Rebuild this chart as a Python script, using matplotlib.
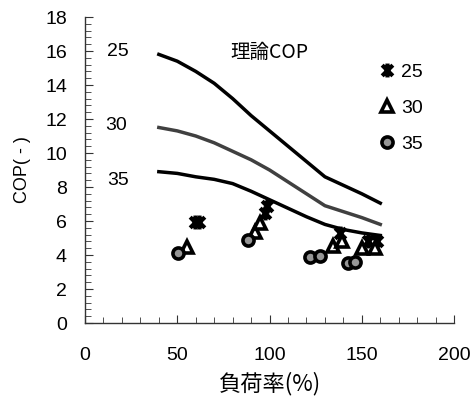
import numpy as np
import matplotlib
matplotlib.use("Agg")
import matplotlib.pyplot as plt
from matplotlib.path import Path
from matplotlib.ticker import MultipleLocator

plt.rcParams['font.family'] = ['Liberation Sans', 'Noto Sans CJK JP', 'DejaVu Sans']

# 理論COP curves
load_theory = [40, 50, 60, 70, 80, 90, 100, 110, 120, 130, 140, 150, 160]
cop_25 = [15.8, 15.4, 14.8, 14.1, 13.2, 12.2, 11.3, 10.4, 9.5, 8.6, 8.1, 7.6, 7.05]
cop_30 = [11.5, 11.3, 11.0, 10.6, 10.1, 9.6, 9.0, 8.3, 7.6, 6.9, 6.55, 6.2, 5.8]
cop_35 = [8.9, 8.8, 8.6, 8.45, 8.2, 7.75, 7.25, 6.75, 6.25, 5.8, 5.5, 5.3, 5.15]

# measured points
load_m25 = [59.5, 62, 97.6, 98.5, 138, 153.5, 158]
meas_25 = [5.95, 5.95, 6.45, 6.9, 5.3, 4.85, 4.85]
load_m30 = [55, 92, 95, 134.6, 139, 150, 157]
meas_30 = [4.5, 5.37, 5.9, 4.55, 4.85, 4.4, 4.4]
load_m35 = [50.5, 88.5, 122, 127.4, 142.7, 146.3]
meas_35 = [4.14, 4.88, 3.9, 3.96, 3.51, 3.57]

# asterisk marker: x plus vertical bar
star = Path([(-1, -1), (1, 1), (-1, 1), (1, -1), (0, -1.3), (0, 1.3)],
            [Path.MOVETO, Path.LINETO, Path.MOVETO, Path.LINETO, Path.MOVETO, Path.LINETO])

fig = plt.figure(figsize=(4.75, 4.01), dpi=100)
ax = fig.add_axes([0.179, 0.1945, 0.777, 0.7631])

ax.plot(load_theory, cop_25, color='black', lw=2.5)
ax.plot(load_theory, cop_30, color='#404040', lw=2.5)
ax.plot(load_theory, cop_35, color='black', lw=2.5)

ax.plot(load_m25, meas_25, ls='none', marker=star, ms=10, mec='black', mew=3,
        color='black', label='25')
ax.plot(load_m30, meas_30, ls='none', marker='^', ms=8, mfc='white', mec='black',
        mew=2.6, label='30')
ax.plot(load_m35, meas_35, ls='none', marker='o', ms=8, mfc='#969696', mec='black',
        mew=2.6, label='35')

ax.text(18, 16.0, '25', fontsize=14, ha='center', va='center')
ax.text(17, 11.6, '30', fontsize=14, ha='center', va='center')
ax.text(18, 8.4, '35', fontsize=14, ha='center', va='center')
ax.text(100, 15.9, '理論COP', fontsize=14, ha='center', va='center',
        family=['Noto Sans CJK JP', 'DejaVu Sans'])

ax.legend(loc='upper left', bbox_to_anchor=(0.775, 0.875), frameon=False, fontsize=14,
          handlelength=0.8, handletextpad=0.35, labelspacing=0.95, borderaxespad=0)

ax.set_xlim(0, 200)
ax.set_ylim(0, 18)
ax.xaxis.set_major_locator(MultipleLocator(50))
ax.xaxis.set_minor_locator(MultipleLocator(10))
ax.yaxis.set_major_locator(MultipleLocator(2))
ax.yaxis.set_minor_locator(MultipleLocator(0.4))
ax.tick_params(which='both', direction='in', labelsize=14, color='#333333')
ax.tick_params(axis='x', which='major', length=6, pad=17)
ax.tick_params(axis='x', which='minor', length=4)
ax.tick_params(axis='y', which='major', length=6, pad=13)
ax.tick_params(axis='y', which='minor', length=4)
for s in ['top', 'right']:
    ax.spines[s].set_visible(False)
for s in ['left', 'bottom']:
    ax.spines[s].set_linewidth(1.0)
    ax.spines[s].set_color('#333333')

ax.set_xlabel('負荷率(%)', fontsize=16, family=['Noto Sans CJK JP', 'DejaVu Sans'], labelpad=6)
ax.set_ylabel('COP( - )', fontsize=13, labelpad=10)

fig.savefig('out.png', dpi=100)
